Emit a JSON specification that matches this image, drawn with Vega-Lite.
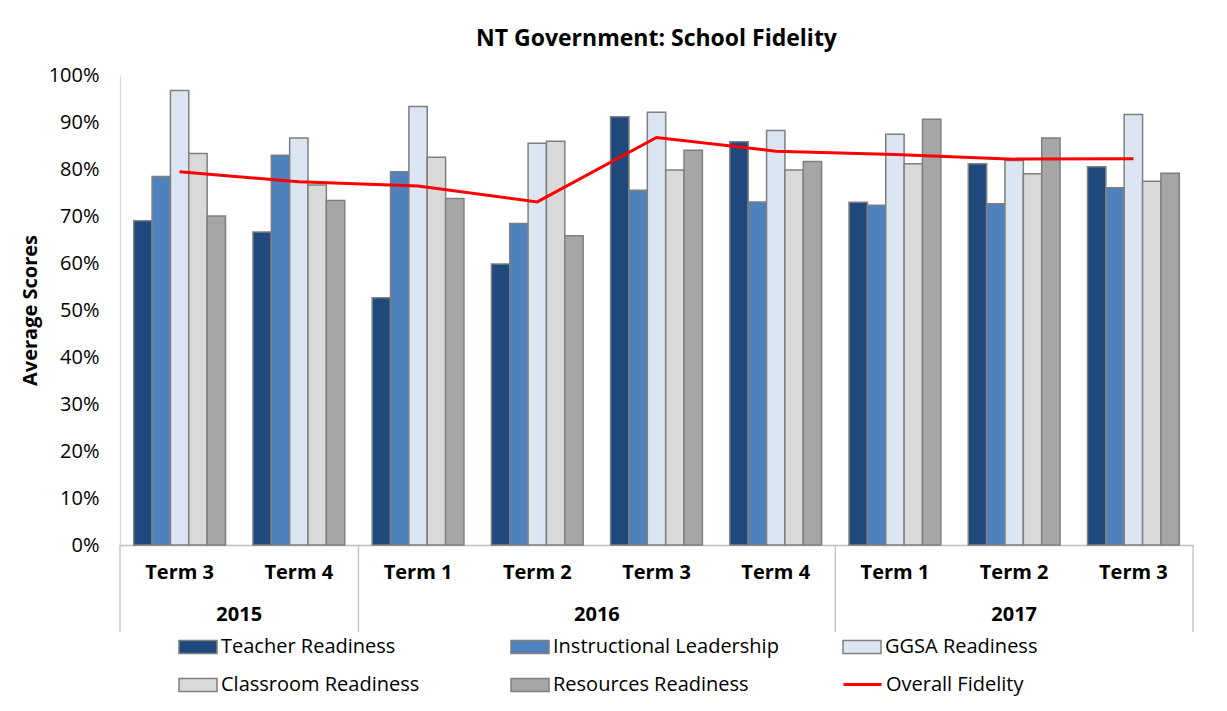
{
  "$schema": "https://vega.github.io/schema/vega-lite/v6.json",
  "width": 1073,
  "height": 470,
  "autosize": {"type": "none"},
  "padding": {"left": 120, "top": 75, "right": 34, "bottom": 166},
  "background": "white",
  "config": {"font": "Open Sans", "view": {"stroke": null}},
  "title": {"text": "NT Government: School Fidelity", "fontSize": 23, "fontWeight": "bold", "font": "Open Sans", "color": "#000", "anchor": "middle", "offset": 14},
  "datasets": {
    "bars": [
      {"period": "2015 Term 3", "series": "Teacher Readiness", "value": 0.690},
      {"period": "2015 Term 3", "series": "Instructional Leadership", "value": 0.784},
      {"period": "2015 Term 3", "series": "GGSA Readiness", "value": 0.967},
      {"period": "2015 Term 3", "series": "Classroom Readiness", "value": 0.833},
      {"period": "2015 Term 3", "series": "Resources Readiness", "value": 0.700},
      {"period": "2015 Term 4", "series": "Teacher Readiness", "value": 0.666},
      {"period": "2015 Term 4", "series": "Instructional Leadership", "value": 0.829},
      {"period": "2015 Term 4", "series": "GGSA Readiness", "value": 0.866},
      {"period": "2015 Term 4", "series": "Classroom Readiness", "value": 0.766},
      {"period": "2015 Term 4", "series": "Resources Readiness", "value": 0.733},
      {"period": "2016 Term 1", "series": "Teacher Readiness", "value": 0.526},
      {"period": "2016 Term 1", "series": "Instructional Leadership", "value": 0.794},
      {"period": "2016 Term 1", "series": "GGSA Readiness", "value": 0.933},
      {"period": "2016 Term 1", "series": "Classroom Readiness", "value": 0.825},
      {"period": "2016 Term 1", "series": "Resources Readiness", "value": 0.737},
      {"period": "2016 Term 2", "series": "Teacher Readiness", "value": 0.598},
      {"period": "2016 Term 2", "series": "Instructional Leadership", "value": 0.684},
      {"period": "2016 Term 2", "series": "GGSA Readiness", "value": 0.855},
      {"period": "2016 Term 2", "series": "Classroom Readiness", "value": 0.859},
      {"period": "2016 Term 2", "series": "Resources Readiness", "value": 0.658},
      {"period": "2016 Term 3", "series": "Teacher Readiness", "value": 0.911},
      {"period": "2016 Term 3", "series": "Instructional Leadership", "value": 0.755},
      {"period": "2016 Term 3", "series": "GGSA Readiness", "value": 0.921},
      {"period": "2016 Term 3", "series": "Classroom Readiness", "value": 0.798},
      {"period": "2016 Term 3", "series": "Resources Readiness", "value": 0.840},
      {"period": "2016 Term 4", "series": "Teacher Readiness", "value": 0.858},
      {"period": "2016 Term 4", "series": "Instructional Leadership", "value": 0.730},
      {"period": "2016 Term 4", "series": "GGSA Readiness", "value": 0.882},
      {"period": "2016 Term 4", "series": "Classroom Readiness", "value": 0.798},
      {"period": "2016 Term 4", "series": "Resources Readiness", "value": 0.816},
      {"period": "2017 Term 1", "series": "Teacher Readiness", "value": 0.729},
      {"period": "2017 Term 1", "series": "Instructional Leadership", "value": 0.723},
      {"period": "2017 Term 1", "series": "GGSA Readiness", "value": 0.874},
      {"period": "2017 Term 1", "series": "Classroom Readiness", "value": 0.811},
      {"period": "2017 Term 1", "series": "Resources Readiness", "value": 0.906},
      {"period": "2017 Term 2", "series": "Teacher Readiness", "value": 0.811},
      {"period": "2017 Term 2", "series": "Instructional Leadership", "value": 0.726},
      {"period": "2017 Term 2", "series": "GGSA Readiness", "value": 0.818},
      {"period": "2017 Term 2", "series": "Classroom Readiness", "value": 0.790},
      {"period": "2017 Term 2", "series": "Resources Readiness", "value": 0.866},
      {"period": "2017 Term 3", "series": "Teacher Readiness", "value": 0.805},
      {"period": "2017 Term 3", "series": "Instructional Leadership", "value": 0.760},
      {"period": "2017 Term 3", "series": "GGSA Readiness", "value": 0.916},
      {"period": "2017 Term 3", "series": "Classroom Readiness", "value": 0.774},
      {"period": "2017 Term 3", "series": "Resources Readiness", "value": 0.791}
    ],
    "fidelity": [
      {"period": "2015 Term 3", "value": 0.794},
      {"period": "2015 Term 4", "value": 0.773},
      {"period": "2016 Term 1", "value": 0.764},
      {"period": "2016 Term 2", "value": 0.730},
      {"period": "2016 Term 3", "value": 0.867},
      {"period": "2016 Term 4", "value": 0.838},
      {"period": "2017 Term 1", "value": 0.831},
      {"period": "2017 Term 2", "value": 0.821},
      {"period": "2017 Term 3", "value": 0.822}
    ],
    "years": [
      {"year": "2015", "first": "2015 Term 3", "mid": "2015 Term 4", "last": "2015 Term 4", "even": true},
      {"year": "2016", "first": "2016 Term 1", "mid": "2016 Term 3", "last": "2016 Term 4", "even": true},
      {"year": "2017", "first": "2017 Term 1", "mid": "2017 Term 2", "last": "2017 Term 3", "even": false}
    ]
  },
  "layer": [
    {
      "data": {"name": "bars"},
      "mark": {"type": "bar", "stroke": "#7f7f7f", "strokeWidth": 1.5},
      "encoding": {
        "x": {
          "field": "period", "type": "nominal",
          "scale": {"domain": ["2015 Term 3", "2015 Term 4", "2016 Term 1", "2016 Term 2", "2016 Term 3", "2016 Term 4", "2017 Term 1", "2017 Term 2", "2017 Term 3"], "paddingInner": 0, "paddingOuter": 0},
          "axis": {"title": null, "labelExpr": "slice(datum.label, 5)", "labelFont": "Open Sans", "labelFontSize": 20, "labelFontWeight": "bold", "labelColor": "#000", "labelPadding": 17, "labelAngle": 0, "ticks": false, "domainColor": "#bfbfbf", "domainWidth": 1.3}
        },
        "xOffset": {
          "field": "series", "type": "nominal",
          "scale": {"domain": ["Teacher Readiness", "Instructional Leadership", "GGSA Readiness", "Classroom Readiness", "Resources Readiness"], "paddingInner": 0, "paddingOuter": 0.747}
        },
        "y": {
          "field": "value", "type": "quantitative",
          "scale": {"domain": [0, 1]},
          "axis": {"title": "Average Scores", "titleFont": "Open Sans", "titleFontSize": 20, "titleFontWeight": "bold", "titleColor": "#000", "titlePadding": 8, "values": [0, 0.1, 0.2, 0.3, 0.4, 0.5, 0.6, 0.7, 0.8, 0.9, 1], "format": ".0%", "labelFont": "Open Sans", "labelFontSize": 20, "labelColor": "#000", "labelPadding": 21, "ticks": false, "grid": false, "domainColor": "#d9d9d9", "domainWidth": 1.3}
        },
        "fill": {
          "field": "series", "type": "nominal",
          "scale": {"domain": ["Teacher Readiness", "Instructional Leadership", "GGSA Readiness", "Classroom Readiness", "Resources Readiness"], "range": ["#1f497d", "#4f81bd", "#dce6f2", "#d9d9d9", "#a6a6a6"]},
          "legend": {
            "title": null, "orient": "none", "legendX": 58, "legendY": 552, "columns": 3, "direction": "horizontal", "gridAlign": "all",
            "columnPadding": 61, "rowPadding": 8, "padding": 0,
            "symbolSize": 1444, "symbolType": "M-1,-0.34L1,-0.34L1,0.34L-1,0.34Z", "symbolStrokeColor": "#7f7f7f", "symbolStrokeWidth": 1.5, "symbolOpacity": 1,
            "labelFont": "Open Sans", "labelFontSize": 20, "labelColor": "#000", "labelOffset": 3, "labelLimit": 400
          }
        }
      }
    },
    {
      "data": {"name": "fidelity"},
      "mark": {"type": "line", "strokeWidth": 3},
      "encoding": {
        "x": {"field": "period", "type": "nominal"},
        "y": {"field": "value", "type": "quantitative"},
        "stroke": {
          "datum": "Overall Fidelity",
          "scale": {"domain": ["Overall Fidelity"], "range": ["#ff0000"]},
          "legend": {
            "title": null, "orient": "none", "legendX": 722, "legendY": 589, "padding": 0,
            "symbolSize": 1444, "symbolType": "stroke", "symbolStrokeWidth": 3,
            "labelFont": "Open Sans", "labelFontSize": 20, "labelColor": "#000", "labelOffset": 3, "labelLimit": 400
          }
        }
      }
    },
    {
      "data": {"name": "years"},
      "mark": {"type": "rule", "color": "#bfbfbf", "strokeWidth": 1.3},
      "encoding": {
        "x": {"field": "first", "type": "nominal", "bandPosition": 0},
        "y": {"datum": 0},
        "y2": {"datum": -0.185}
      }
    },
    {
      "data": {"name": "years"},
      "transform": [{"filter": "datum.year == '2017'"}],
      "mark": {"type": "rule", "color": "#bfbfbf", "strokeWidth": 1.3},
      "encoding": {
        "x": {"field": "last", "type": "nominal", "bandPosition": 1},
        "y": {"datum": 0},
        "y2": {"datum": -0.185}
      }
    },
    {
      "data": {"name": "years"},
      "transform": [{"filter": "datum.even"}],
      "mark": {"type": "text", "font": "Open Sans", "fontSize": 20, "fontWeight": "bold", "color": "#000", "baseline": "middle", "align": "center"},
      "encoding": {
        "x": {"field": "mid", "type": "nominal", "bandPosition": 0},
        "y": {"datum": -0.149},
        "text": {"field": "year"}
      }
    },
    {
      "data": {"name": "years"},
      "transform": [{"filter": "!datum.even"}],
      "mark": {"type": "text", "font": "Open Sans", "fontSize": 20, "fontWeight": "bold", "color": "#000", "baseline": "middle", "align": "center"},
      "encoding": {
        "x": {"field": "mid", "type": "nominal", "bandPosition": 0.5},
        "y": {"datum": -0.149},
        "text": {"field": "year"}
      }
    }
  ]
}
